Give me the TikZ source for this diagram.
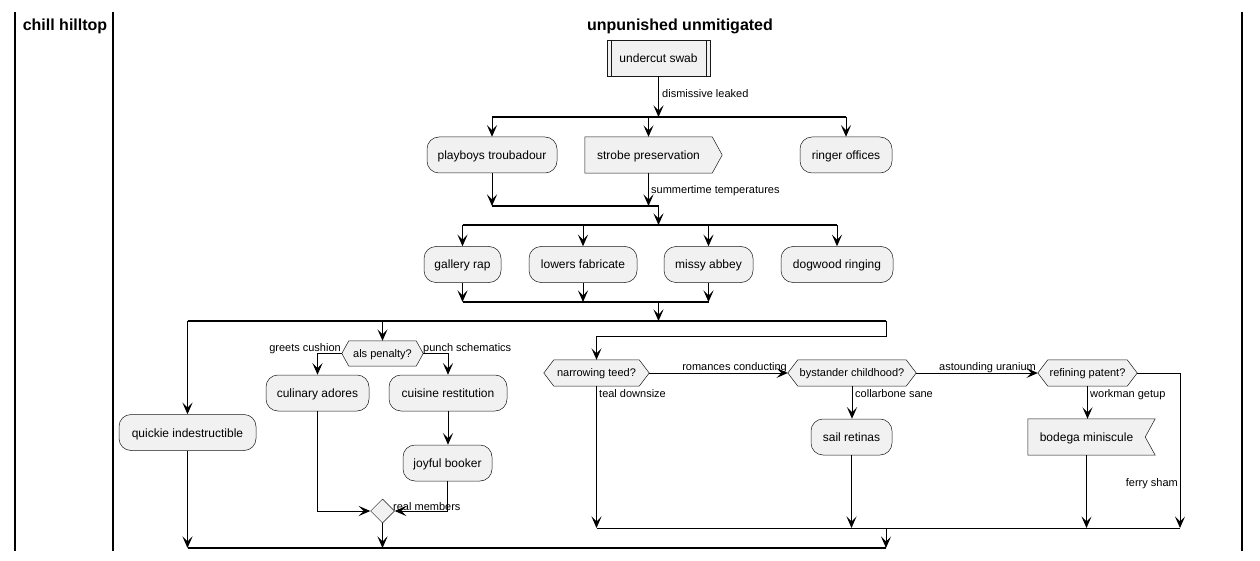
\documentclass[tikz,border=0pt]{standalone}
\usepackage{fontspec}
\setmainfont{Liberation Sans}
\usetikzlibrary{arrows.meta,shapes.geometric,backgrounds,calc}
\definecolor{boxfill}{HTML}{F1F1F1}
\definecolor{boxline}{HTML}{181818}
\newcommand{\drawhexagon}[2]{\draw[outline] (#1.west) -- ([xshift=#2]#1.north west) -- ([xshift=-#2]#1.north east) -- (#1.east) -- ([xshift=-#2]#1.south east) -- ([xshift=#2]#1.south west) -- cycle;}
\begin{document}
\begin{tikzpicture}[x=1pt,y=-1pt,
  every node/.style={font=\fontsize{12}{14}\selectfont, inner sep=0pt},
  plain/.style={minimum height=36pt, text height=10pt, text depth=1pt},
  act/.style={plain, draw=boxline, line width=0.5pt, fill=boxfill, rounded corners=12pt},
  hexnode/.style={minimum height=26pt, text height=9pt, text depth=2pt, font=\fontsize{11}{13}\selectfont},
  outline/.style={draw=boxline, line width=0.5pt, fill=boxfill},
  lbl/.style={font=\fontsize{11}{13}\selectfont},
  edge/.style={line width=1pt, -{Stealth[length=11.5pt,width=10pt,inset=5pt]}},
  flow/.style={line width=1pt},
  bar/.style={line width=1.6pt},
  lane/.style={line width=1.2pt},
  lanetitle/.style={font=\fontsize{16}{19}\selectfont\bfseries}
]
\begin{scope}[on background layer]
\fill[white] (0,0) rectangle (1260,561);
\end{scope}
\useasboundingbox (0,0) rectangle (1260,561);

% swimlanes
\draw[lane] (15,12) -- (15,551);
\draw[lane] (113,12) -- (113,551);
\draw[lane] (1242,12) -- (1242,551);
\node[lanetitle] (t1) at (65,26) {chill hilltop};
\node[lanetitle] (t2) at (680,26) {unpunished unmitigated};

% nodes
\node[plain, draw=boxline, line width=.5pt, fill=boxfill, minimum width=103pt] (us) at (658.5,58) {undercut swab};
\draw[boxline, line width=.5pt] ([xshift=4pt]us.north west) -- ([xshift=4pt]us.south west) ([xshift=-4pt]us.north east) -- ([xshift=-4pt]us.south east);

\node[act, minimum width=130pt] (pt) at (492,155) {playboys troubadour};
\node[plain, minimum width=127pt] (sp) at (648.5,155) {strobe preservation};
\node[act, minimum width=92pt] (ro) at (846,155) {ringer offices};

\node[act, minimum width=77pt] (gr) at (462.5,264.5) {gallery rap};
\node[act, minimum width=108pt] (lf) at (583,264.5) {lowers fabricate};
\node[act, minimum width=89pt] (ma) at (708.5,264.5) {missy abbey};
\node[act, minimum width=112pt] (dr) at (837,264.5) {dogwood ringing};

\node[act, minimum width=137pt] (qi) at (187.5,432.5) {quickie indestructible};
\node[hexnode, minimum width=81pt, minimum height=25pt] (ap) at (382.5,353.5) {als penalty?};
\node[act, minimum width=103pt] (ca) at (317.5,393) {culinary adores};
\node[act, minimum width=118pt] (cr) at (448,393) {cuisine restitution};
\node[act, minimum width=89pt] (jb) at (447.5,463) {joyful booker};
\node[diamond, draw=boxline, line width=.5pt, fill=boxfill, minimum width=24pt, minimum height=24pt] (md) at (382.5,511) {};

\node[hexnode, minimum width=105pt] (nt) at (596.5,373) {narrowing teed?};
\node[hexnode, minimum width=128pt] (bc) at (852,373) {bystander childhood?};
\node[hexnode, minimum width=99pt] (rp) at (1087.5,373) {refining patent?};
\node[act, minimum width=81pt] (sr) at (851.5,437) {sail retinas};
\node[plain, minimum width=117pt] (bm) at (1086.5,437) {bodega miniscule};

% custom outlines
\begin{scope}[on background layer]
\draw[outline] (sp.north west) -- (sp.north east) -- ([xshift=10pt]sp.east) -- (sp.south east) -- (sp.south west) -- cycle;
\draw[outline] (bm.north west) -- ([xshift=10pt]bm.north east) -- (bm.east) -- ([xshift=10pt]bm.south east) -- (bm.south west) -- cycle;
\drawhexagon{ap}{7pt}
\drawhexagon{nt}{10pt}
\drawhexagon{bc}{10pt}
\drawhexagon{rp}{10pt}
\end{scope}

% connectors
\coordinate (f1) at (658.5,117);
\draw[edge] (us.south) -- (f1);
\node[lbl, anchor=base west] (l1) at (662,98) {dismissive leaked};
\draw[bar] (pt.north |- f1) -- (ro.north |- f1);
\draw[edge] (pt.north |- f1) -- (pt.north);
\draw[edge] (sp.north |- f1) -- (sp.north);
\draw[edge] (ro.north |- f1) -- (ro.north);

\coordinate (m1) at (658.5,206);
\draw[edge] (pt.south) -- (pt.south |- m1);
\draw[edge] (sp.south) -- (sp.south |- m1);
\node[lbl, anchor=base west] (l2) at (651,194) {summertime temperatures};
\draw[bar] (pt.south |- m1) -- (m1);
\coordinate (f2) at (658.5,225);
\draw[edge] (m1) -- (f2);
\draw[bar] (gr.north |- f2) -- (dr.north |- f2);
\foreach \n in {gr,lf,ma,dr} \draw[edge] (\n.north |- f2) -- (\n.north);

\coordinate (m2) at (658.5,302);
\foreach \n in {gr,lf,ma} \draw[edge] (\n.south) -- (\n.south |- m2);
\draw[bar] (gr.south |- m2) -- (ma.south |- m2);
\coordinate (f3) at (658.5,321);
\draw[edge] (m2) -- (f3);
\coordinate (f3r) at (886,321);
\coordinate (f3d) at (886,336);
\draw[bar] (qi.north |- f3) -- (f3r);
\draw[flow] (f3r) -- (f3d) -- (nt.north |- f3d);
\draw[edge] (qi.north |- f3) -- (qi.north);
\draw[edge] (ap.north |- f3) -- (ap.north);
\draw[edge] (nt.north |- f3d) -- (nt.north);

\draw[edge] (ap.west) -| (ca.north);
\node[lbl, anchor=base east] (l3) at (341,351.5) {greets cushion};
\draw[edge] (ap.east) -| (cr.north);
\node[lbl, anchor=base west] (l4) at (423,351.5) {punch schematics};
\draw[edge] (cr.south) -- (cr.south |- jb.north);
\draw[edge] (ca.south) |- (md.west);
\draw[edge] (jb.south) |- (md.east);
\node[lbl, anchor=base west] (l5) at (393,510) {real members};

\coordinate (b1) at (886,548);
\draw[edge] (md.south) -- (md.south |- b1);
\draw[edge] (qi.south) -- (qi.south |- b1);
\draw[bar] (qi.south |- b1) -- (b1);

\draw[edge] (nt.east) -- (bc.west);
\node[lbl, anchor=base east] (l6) at (787,370.5) {romances conducting};
\draw[edge] (bc.east) -- (rp.west);
\node[lbl, anchor=base east] (l7) at (1036,370.5) {astounding uranium};
\coordinate (b2) at (1180,528);
\coordinate (b2m) at (886,528);
\draw[edge] (rp.east) -| (b2);
\node[lbl, anchor=base east] (l8) at (1178,486) {ferry sham};
\draw[edge] (nt.south) -- (nt.south |- b2);
\node[lbl, anchor=base west] (l9) at (599,397) {teal downsize};
\draw[edge] (bc.south) -- (bc.south |- sr.north);
\node[lbl, anchor=base west] (l10) at (855,397) {collarbone sane};
\draw[edge] (sr.south) -- (sr.south |- b2);
\draw[edge] (rp.south) -- (rp.south |- bm.north);
\node[lbl, anchor=base west] (l11) at (1090,397) {workman getup};
\draw[edge] (bm.south) -- (bm.south |- b2);
\draw[flow] (nt.south |- b2) -- (b2);
\draw[edge] (b2m) -- (b1);
\end{tikzpicture}
\end{document}
